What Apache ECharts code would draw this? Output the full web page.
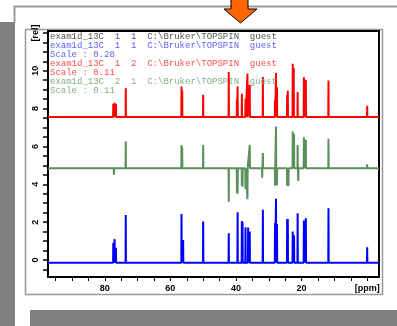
<!DOCTYPE html>
<html>
<head>
<meta charset="utf-8">
<script src="https://cdn.jsdelivr.net/npm/echarts@6/dist/echarts.min.js"></script>
<style>
html, body { margin: 0; padding: 0; background: #fff; }
#chart { width: 397px; height: 326px; }
</style>
</head>
<body>
<div id="chart"></div>
<script>
// axis ranges (ppm axis runs right to left)
var xMin = -3.6, xMax = 97.3;
var yMin = -0.9, yMax = 12.1;
var xTickValues = [95, 90, 85, 80, 75, 70, 65, 60, 55, 50, 45, 40, 35, 30, 25, 20, 15, 10, 5, 0];
var xLabelValues = [80, 60, 40, 20, 0];
var yTickValues = [-0.5, 0, 0.5, 1, 1.5, 2, 2.5, 3, 3.5, 4, 4.5, 5, 5.5, 6, 6.5, 7, 7.5, 8, 8.5, 9, 9.5, 10, 10.5, 11, 11.5, 12];
var yLabelValues = [0, 2, 4, 6, 8, 10, 12];

// header text lines
var headerLines = [
    'exam1d_13C  1  1  C:\\Bruker\\TOPSPIN  guest',
    'exam1d_13C  1  1  C:\\Bruker\\TOPSPIN  guest',
    'Scale : 0.28',
    'exam1d_13C  1  2  C:\\Bruker\\TOPSPIN  guest',
    'Scale : 0.11',
    'exam1d_13C  2  1  C:\\Bruker\\TOPSPIN  guest',
    'Scale : 0.11'
];
var headerColors = ['#555', '#6060ff', '#6060ff', '#ff5050', '#ff5050', '#86ad86', '#86ad86'];

// baselines of the stacked spectra
var blueBase = -0.15, greenBase = 4.85, redBase = 7.55;

// peaks: [ppm, height above baseline]
var bluePeaks = [
    [77.4, 1.05], [77.0, 1.25], [76.6, 0.8], [73.6, 2.53], [56.6, 2.58], [56.1, 1.2],
    [50.0, 2.18], [42.2, 1.56], [39.5, 2.67], [38.2, 2.21], [38.0, 2.15], [37.1, 1.88],
    [36.3, 1.86], [35.8, 1.65], [31.8, 2.8], [28.1, 2.1], [27.8, 3.38], [27.5, 2.05],
    [24.4, 2.32], [24.2, 2.32], [22.7, 1.65], [22.3, 1.45], [21.2, 2.62], [19.3, 2.23],
    [18.7, 2.35], [11.8, 2.88], [0.0, 0.82]
];
var greenPeaks = [
    [77.2, -0.35], [73.6, 1.41], [56.6, 1.23], [56.4, 1.1], [50.0, 1.23], [42.2, -1.77],
    [39.7, -1.32], [39.5, -1.35], [38.2, -0.93], [38.0, -0.98], [37.1, -1.08], [36.5, -1.64],
    [35.8, 1.23], [32.0, -0.5], [31.8, 0.8], [28.1, -0.93], [27.8, 2.2], [27.5, -0.9],
    [24.4, -0.93], [24.0, -0.95], [22.7, 1.94], [22.3, 1.8], [21.2, 1.23], [21.0, -0.68],
    [19.3, 1.64], [18.7, 1.5], [11.8, 1.55], [0.0, 0.2]
];
var redPeaks = [
    [77.4, 0.7], [77.0, 0.75], [76.6, 0.7], [73.6, 1.53], [56.6, 1.62], [56.4, 1.4],
    [50.0, 1.18], [42.2, 2.38], [39.7, 0.95], [39.5, 1.62], [38.2, 1.23], [37.1, 0.97],
    [36.5, 2.3], [35.8, 1.71], [31.8, 2.12], [28.1, 0.92], [27.8, 2.33], [27.5, 1.58],
    [24.4, 1.18], [24.2, 1.39], [22.7, 2.82], [22.4, 2.6], [21.2, 1.32], [19.3, 2.1],
    [18.7, 1.97], [11.8, 1.94], [0.0, 0.6]
];

function buildTrace(base, peaks) {
    var pts = [[xMax, base]];
    peaks.slice().sort(function (a, b) { return b[0] - a[0]; }).forEach(function (p) {
        pts.push([p[0] + 0.06, base], [p[0], base + p[1]], [p[0] - 0.06, base]);
    });
    pts.push([xMin, base]);
    return pts;
}

var chart = echarts.init(document.getElementById('chart'));

var graphics = [
    // page decorations behind the chart
    { type: 'rect', z: -10, shape: { x: 0, y: 22, width: 15, height: 304 }, style: { fill: '#808080' } },
    { type: 'rect', z: -10, shape: { x: 30, y: 310, width: 367, height: 16 }, style: { fill: '#808080' } },
    { type: 'polyline', z: -10, shape: { points: [[14.5, 23], [14.5, 6.5], [397, 6.5]] }, style: { stroke: '#999', lineWidth: 2, fill: null } },
    { type: 'rect', z: -10, shape: { x: 25.5, y: 29.5, width: 357, height: 265 }, style: { stroke: '#999', lineWidth: 1.5, fill: '#fff' } },
    // orange arrow
    {
        type: 'polygon', z: 10,
        shape: { points: [[231, -2], [248, -2], [248, 9], [257, 9], [240.5, 23], [224, 9], [231, 9]] },
        style: { fill: '#ff6600', stroke: '#000', lineWidth: 1 }
    }
];
headerLines.forEach(function (t, i) {
    graphics.push({
        type: 'text', z: 20, x: 50, y: 36.7 + i * 9,
        style: { text: t, fill: headerColors[i], font: '9px "Liberation Mono", monospace', verticalAlign: 'middle' }
    });
});

var option = {
    animation: false,
    graphic: graphics,
    grid: {
        left: 48, top: 31, width: 331, height: 246,
        show: true, borderColor: '#000', borderWidth: 2, backgroundColor: '#fff'
    },
    xAxis: {
        type: 'value', inverse: true, min: xMin, max: xMax, position: 'bottom',
        splitLine: { show: false },
        axisLine: { show: false, onZero: false },
        axisTick: { show: true, customValues: xTickValues, length: 4, lineStyle: { color: '#000', width: 1 } },
        axisLabel: {
            customValues: xLabelValues, margin: 7,
            formatter: function (v) { return v === 0 ? '[ppm]' : String(v); },
            fontSize: 9, fontWeight: 'bold', color: '#000', fontFamily: 'Liberation Sans'
        }
    },
    yAxis: {
        type: 'value', min: yMin, max: yMax, position: 'left',
        splitLine: { show: false },
        axisLine: { show: false, onZero: false },
        axisTick: { show: true, customValues: yTickValues, length: 5, lineStyle: { color: '#000', width: 1.5 } },
        axisLabel: {
            customValues: yLabelValues, rotate: 90, margin: 8,
            formatter: function (v) { return v === 12 ? '[rel]' : String(v); },
            fontSize: 9, fontWeight: 'bold', color: '#000', fontFamily: 'Liberation Sans'
        }
    },
    series: [
        { type: 'line', data: buildTrace(blueBase, bluePeaks), showSymbol: false, symbol: 'none', lineStyle: { color: '#0000ff', width: 2 } },
        { type: 'line', data: buildTrace(greenBase, greenPeaks), showSymbol: false, symbol: 'none', lineStyle: { color: '#5b8f5b', width: 2 } },
        { type: 'line', data: buildTrace(redBase, redPeaks), showSymbol: false, symbol: 'none', lineStyle: { color: '#ff0000', width: 2 } }
    ]
};
chart.setOption(option);
window.addEventListener('resize', chart.resize);
</script>
</body>
</html>
